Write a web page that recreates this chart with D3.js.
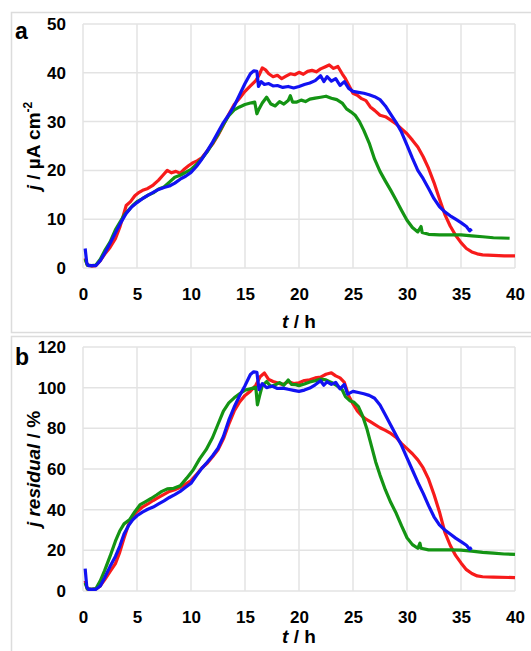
<!DOCTYPE html>
<html>
<head>
<meta charset="utf-8">
<script src="https://cdn.jsdelivr.net/npm/d3@7"></script>
<style>
  body { margin: 0; background: #fff; }
  svg { display: block; font-family: "Liberation Sans", Arial, sans-serif; }
</style>
</head>
<body>
<svg class="target"></svg>
<script>
// x ticks shared by both panels
const xTicks = [0, 5, 10, 15, 20, 25, 30, 35, 40];
const yTicksA = [0, 10, 20, 30, 40, 50];
const yTicksB = [0, 20, 40, 60, 80, 100, 120];

// panel a: current density j / µA cm-2, [t (h), j]
const redA = [[0.2,2],[0.4,0.6],[0.8,0.4],[1.2,0.5],[1.6,1.5],[2,2.8],[2.5,4.2],[3,6],[3.4,8.3],[3.7,10.5],[4,12.8],[4.4,13.6],[4.8,14.8],[5.2,15.5],[5.6,16],[6,16.3],[6.5,17],[7,18],[7.4,19],[7.8,20],[8.2,19.5],[8.6,19.8],[9,19.4],[9.4,20.3],[9.8,21],[10.2,21.6],[10.6,22],[11,22.6],[11.5,24],[12,25.4],[12.5,27.2],[13,29.3],[13.5,31.5],[14,33.5],[14.5,34.8],[15,36.2],[15.5,37.3],[16,38.4],[16.3,39.5],[16.6,41],[16.9,40.6],[17.2,39.8],[17.6,39.2],[18,39.5],[18.4,38.8],[18.8,39.3],[19.2,39.8],[19.6,39.6],[20,40.1],[20.4,39.7],[20.8,40.3],[21.2,40.5],[21.6,40.2],[22,40.8],[22.4,41.2],[22.8,41.6],[23.2,40.9],[23.6,41.3],[24,39.8],[24.3,38.8],[24.6,37.5],[25,35.8],[25.4,35.4],[25.8,34.7],[26.2,34.3],[26.6,33],[27,32.3],[27.5,31.3],[28,31],[28.5,30.3],[29,29.5],[29.5,28.5],[30,27.5],[30.5,26.2],[31,24.8],[31.5,22.8],[32,20.4],[32.5,17.5],[33,14.2],[33.5,11],[34,8.6],[34.5,6.7],[35,5.2],[35.5,4],[36,3.3],[36.5,2.9],[37,2.7],[38,2.6],[39,2.5],[40,2.5]];
const greenA = [[0.2,1.8],[0.4,0.6],[0.8,0.5],[1.2,0.6],[1.6,1.8],[2,3.5],[2.5,5.3],[3,7.8],[3.4,9.3],[3.8,10.8],[4.2,11.8],[4.6,12.8],[5,13.6],[5.5,14.2],[6,14.9],[6.5,15.4],[7,16.2],[7.5,16.6],[8,17.6],[8.5,18.6],[9,19],[9.5,19.6],[10,20.2],[10.5,21.2],[11,22.4],[11.5,23.8],[12,25.6],[12.5,27.4],[13,29.4],[13.5,31.2],[14,32.4],[14.5,33],[15,33.5],[15.5,33.8],[15.9,34],[16.1,31.6],[16.3,32.6],[16.6,33.8],[17,35],[17.4,33.6],[17.8,33.2],[18.2,34.1],[18.6,33.6],[19,34.3],[19.2,35.3],[19.4,34],[19.8,34],[20.2,34.4],[20.6,34.1],[21,34.6],[21.5,34.8],[22,35],[22.5,35.2],[23,34.8],[23.5,34.5],[24,33.8],[24.4,32.6],[24.8,32],[25.2,31.3],[25.6,30],[26,28.2],[26.5,25.6],[27,22.3],[27.5,19.8],[28,17.8],[28.5,15.9],[29,13.9],[29.5,11.8],[30,9.8],[30.5,8.3],[31,7.4],[31.3,8.5],[31.4,7.3],[32,6.9],[33,6.8],[34,6.8],[35,6.8],[36,6.6],[37,6.4],[38,6.2],[39.5,6.1]];
const blueA = [[0.2,4],[0.35,1],[0.5,0.5],[1.2,0.5],[1.6,1.5],[2,3],[2.5,5],[3,7.2],[3.5,9.3],[4,11.2],[4.5,12.5],[5,13.4],[5.5,14.2],[6,14.9],[6.5,15.5],[7,16.1],[7.5,16.5],[8,16.8],[8.5,17.4],[9,18.2],[9.5,18.8],[10,19.6],[10.5,20.8],[11,22.3],[11.5,24],[12,25.8],[12.5,27.8],[13,29.8],[13.5,31.4],[14,33.2],[14.5,35.5],[15,37.8],[15.5,39.8],[15.8,40.4],[16.1,40.3],[16.25,37.2],[16.5,38.2],[16.8,37.6],[17.2,37.8],[17.6,37.3],[18,37.4],[18.5,37],[19,37.2],[19.5,36.9],[20,37.2],[20.5,37.6],[21,37.9],[21.5,38.4],[22,39.4],[22.3,38.2],[22.6,39.2],[23,38.3],[23.4,38.8],[23.8,37.4],[24.2,38.2],[24.6,36.8],[25,36.2],[25.5,36],[26,35.8],[26.5,35.5],[27,35.1],[27.5,34.5],[28,33.2],[28.5,31.5],[29,29.8],[29.5,27.8],[30,25.2],[30.5,22.5],[31,20],[31.5,18.3],[32,16.3],[32.5,14.2],[33,12.6],[33.5,11.5],[34,10.7],[34.5,10],[35,9.3],[35.5,8.5],[35.8,7.6],[36,8]];

// panel b: residual current j residual / %, [t (h), %]
const redB = [[0.2,5],[0.4,1],[0.8,0.8],[1.2,1],[1.6,2.5],[2,5.5],[2.5,9.5],[3,13.5],[3.4,19],[3.8,26],[4.2,32.5],[4.6,36.5],[5,39],[5.5,41.3],[6,42.8],[6.5,44.5],[7,46],[7.5,47.5],[8,49],[8.5,49.8],[9,51],[9.5,52.6],[10,54.3],[10.5,57.2],[11,60.5],[11.5,62.8],[12,66],[12.5,69.5],[13,74.8],[13.5,82],[14,88.5],[14.5,93],[15,96.2],[15.5,98.3],[16,101.2],[16.4,105.4],[16.8,107.2],[17.2,104],[17.6,103],[18,102.4],[18.5,101.5],[19,103],[19.5,102],[20,102.4],[20.5,103.5],[21,103.9],[21.5,104.8],[22,105.2],[22.5,106.6],[23,107.3],[23.4,105.8],[23.8,104.8],[24.2,102.6],[24.6,96],[25,92],[25.4,88.6],[25.8,86.2],[26.2,84.5],[26.6,83.3],[27,82],[27.5,80.3],[28,79],[28.5,77.5],[29,75.5],[29.5,72.5],[30,70],[30.5,67.5],[31,64.5],[31.5,60.5],[32,55],[32.5,47.5],[33,39],[33.5,29],[34,22.5],[34.5,17.5],[35,13.8],[35.5,10.5],[36,8.6],[36.5,7.4],[37,7],[38,6.8],[40,6.6]];
const greenB = [[0.2,4],[0.4,1],[0.8,0.8],[1.2,1.2],[1.6,5],[2,10],[2.5,17],[3,24.5],[3.4,29.5],[3.8,33],[4.3,35],[4.8,39],[5.3,42.5],[5.8,44],[6.3,45.5],[6.8,47.2],[7.3,49],[7.8,50.2],[8.4,50.5],[9,51.8],[9.6,55.5],[10.2,59.5],[10.8,65],[11.4,69.5],[12,75.5],[12.5,82],[13,88.5],[13.5,92.5],[14,95],[14.5,97],[15,98.8],[15.5,99.5],[16,100.2],[16.15,91.5],[16.35,96],[16.6,101],[17,103],[17.4,100.5],[17.8,101.4],[18.2,102.5],[18.6,101.2],[19,103.8],[19.3,101.6],[19.7,101.5],[20,101],[20.5,101.8],[21,102.8],[21.5,103.4],[22,104.2],[22.5,103.8],[23,102.6],[23.5,101],[24,99],[24.3,95.6],[24.7,93.6],[25.1,92.8],[25.5,90.7],[25.9,86],[26.3,79.5],[26.7,71.5],[27.1,63.5],[27.5,57],[28,49.7],[28.5,43.5],[29,38.2],[29.5,32],[30,26.2],[30.5,22.8],[31,21],[31.2,23.5],[31.3,21],[32,20.2],[33,20.2],[34,20.2],[35,20.1],[36,19.6],[37,19],[38,18.6],[39,18.2],[40,18]];
const blueB = [[0.2,11],[0.35,2],[0.5,0.8],[1.2,0.8],[1.6,2.5],[2,6.5],[2.5,12],[3,17],[3.4,22],[3.8,28],[4.2,32],[4.6,35],[5,37],[5.5,38.8],[6,40.2],[6.5,41.3],[7,42.8],[7.5,44.3],[8,46],[8.5,47.4],[9,49],[9.5,51],[10,53],[10.5,56.8],[11,60.3],[11.5,63.3],[12,66.5],[12.5,70.2],[13,76],[13.5,84],[14,90.5],[14.5,96],[15,101],[15.5,106.5],[15.8,107.8],[16.1,107.6],[16.3,99],[16.6,102],[17,100],[17.5,100.8],[18,99.6],[18.5,99.8],[19,99.2],[19.5,98.7],[20,98.2],[20.5,98.8],[21,99.8],[21.5,101.4],[22,103.4],[22.3,101.2],[22.6,102.9],[23,101.6],[23.4,102.6],[23.8,99.4],[24.2,101.6],[24.5,96.8],[25,98.2],[25.5,97.6],[26,97],[26.5,96.2],[27,94.8],[27.5,91.5],[28,86.6],[28.5,81.5],[29,76.5],[29.5,71.5],[30,65.5],[30.5,59.5],[31,53.5],[31.5,48],[32,42],[32.5,36.5],[33,32.5],[33.5,30],[34,28],[34.5,26],[35,24.3],[35.5,22.5],[35.8,20.6],[36,21.3]];

const colors = { red: "#f71b1b", green: "#149414", blue: "#1212f2" };

document.addEventListener("DOMContentLoaded", function() {
    drawChart();
});

function drawChart() {
    const width = 531;
    const height = 651;
    const svg = d3.select(".target")
        .attr("viewBox", [0, 0, width, height])
        .attr("width", width)
        .attr("height", height);

    const x = d3.scaleLinear().domain([0, 40]).range([83, 515]);

    drawPanel(svg, {
        frameY: 12, top: 24, bottom: 268,
        yMax: 50, yTicks: yTicksA, letter: "a", letterY: 39,
        series: [[redA, colors.red], [greenA, colors.green], [blueA, colors.blue]],
        ylabel: [["j", true], [" / µA cm", false], ["-2", false, true]],
        xlabelY: 328
    }, x);

    drawPanel(svg, {
        frameY: 336, top: 347, bottom: 591,
        yMax: 120, yTicks: yTicksB, letter: "b", letterY: 365,
        series: [[redB, colors.red], [greenB, colors.green], [blueB, colors.blue]],
        ylabel: [["j residual", true], [" / %", false]],
        xlabelY: 643
    }, x);
}

function drawPanel(svg, p, x) {
    const g = svg.append("g");

    // panel frame
    g.append("rect")
        .attr("x", 11.5).attr("y", p.frameY + 0.5)
        .attr("width", 530).attr("height", 320)
        .attr("fill", "none")
        .attr("stroke", "#dcdcdc")
        .attr("stroke-width", 1.5);

    const y = d3.scaleLinear().domain([0, p.yMax]).range([p.bottom, p.top]);

    // grid
    g.append("g").selectAll("line")
        .data(xTicks).enter().append("line")
        .attr("x1", d => x(d)).attr("x2", d => x(d))
        .attr("y1", p.top).attr("y2", p.bottom)
        .attr("stroke", "#e3e3e3").attr("stroke-width", 1.5);
    g.append("g").selectAll("line")
        .data(p.yTicks).enter().append("line")
        .attr("x1", x(0)).attr("x2", x(40))
        .attr("y1", d => y(d)).attr("y2", d => y(d))
        .attr("stroke", "#e3e3e3").attr("stroke-width", 1.5);

    // axes (labels only)
    const xAxis = g.append("g")
        .attr("transform", "translate(0," + p.bottom + ")")
        .call(d3.axisBottom(x).tickValues(xTicks).tickSize(0).tickPadding(20));
    const yAxis = g.append("g")
        .attr("transform", "translate(" + x(0) + ",0)")
        .call(d3.axisLeft(y).tickValues(p.yTicks).tickSize(0).tickPadding(17));
    [xAxis, yAxis].forEach(function(a) {
        a.select(".domain").remove();
        a.selectAll("text")
            .attr("font-family", "'Liberation Sans', Arial, sans-serif")
            .attr("font-size", 17)
            .attr("font-weight", "bold")
            .attr("fill", "#000");
    });

    // series
    const line = d3.line()
        .x(d => x(d[0]))
        .y(d => y(d[1]));
    p.series.forEach(function(s) {
        g.append("path")
            .datum(s[0])
            .attr("fill", "none")
            .attr("stroke", s[1])
            .attr("stroke-width", 3.2)
            .attr("stroke-linejoin", "round")
            .attr("d", line);
    });

    // panel letter
    g.append("text")
        .attr("x", 15).attr("y", p.letterY)
        .attr("font-size", 23).attr("font-weight", "bold")
        .attr("fill", "#000")
        .text(p.letter);

    // x label
    const xl = g.append("text")
        .attr("x", (x(0) + x(40)) / 2).attr("y", p.xlabelY)
        .attr("text-anchor", "middle")
        .attr("font-size", 19).attr("font-weight", "bold")
        .attr("fill", "#000");
    xl.append("tspan").attr("font-style", "italic").text("t");
    xl.append("tspan").text(" / h");

    // y label
    const yl = g.append("text")
        .attr("transform", "translate(40," + (p.top + p.bottom) / 2 + ") rotate(-90)")
        .attr("text-anchor", "middle")
        .attr("font-size", 19).attr("font-weight", "bold")
        .attr("fill", "#000");
    p.ylabel.forEach(function(part) {
        const t = yl.append("tspan").text(part[0]);
        if (part[1]) t.attr("font-style", "italic");
        if (part[2]) t.attr("font-size", 12).attr("dy", -8);
    });
}
</script>
</body>
</html>
